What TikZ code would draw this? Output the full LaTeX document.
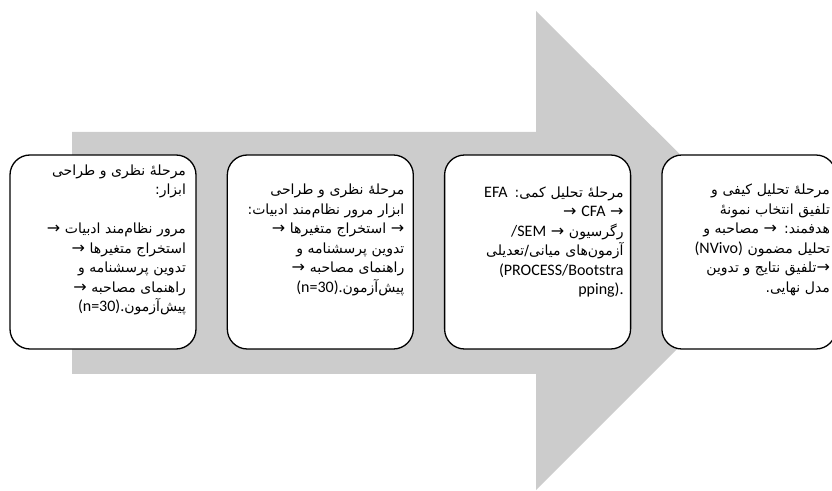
\documentclass[tikz,border=0pt]{standalone}
\usepackage{fontspec}
\setmainfont{Carlito}
\newfontfamily\arfont[Script=Arabic]{DejaVu Sans}
\newfontfamily\latfont{Carlito}
\TeXXeTstate=1
\usetikzlibrary{positioning}
\definecolor{arrowgray}{RGB}{204,204,204}
% right-to-left line and a left-to-right piece inside it
\newcommand{\rl}[1]{\beginR #1\endR}
\newcommand{\lat}[1]{\beginL{\latfont\fontsize{16pt}{19.5pt}\selectfont #1}\endL}
\newcommand{\hmz}{ه^^^^0654}
\newcommand{\nxt}{{\arfont\fontsize{16pt}{19.5pt}\selectfont →}}

\tikzset{
  stage/.style={draw, line width=1.3pt, rounded corners=20pt, fill=white,
    minimum width=186pt, minimum height=194pt, inner sep=0pt},
  stagetext/.style={inner sep=0pt, align=right,
    font=\arfont\fontsize{14pt}{19.5pt}\selectfont}
}

\begin{document}
\begin{tikzpicture}[x=1pt, y=1pt]
  \useasboundingbox (0,0) rectangle (832,490);

  % big process arrow
  \fill[arrowgray] (72,116) -- (536,116) -- (536,0) -- (776,240)
    -- (536,479) -- (536,358) -- (72,358) -- cycle;

  % stages
  \node[stage] (s1) at (103,238) {};
  \node[stage, right=30pt of s1] (s2) {};
  \node[stage, right=30pt of s2] (s3) {};
  \node[stage, right=30pt of s3, minimum width=174pt] (s4) {};

  \node[stagetext, text width=172pt] (t1) at ([xshift=-3pt, yshift=12pt]s1.center) {%
    \rl{مرحل\hmz{} نظری و طراحی}\\
    \rl{ابزار:}\\
    \mbox{}\\
    \rl{مرور نظام^^^^200cمند ادبیات \nxt}\hspace*{\fill}\\
    \rl{استخراج متغیرها \nxt}\hspace*{\fill}\\
    \rl{تدوین پرسشنامه و}\hspace*{\fill}\\
    \rl{راهنمای مصاحبه \nxt}\hspace*{\fill}\\
    \rl{پیش^^^^200cآزمون\lat{(n=30).}}\hspace*{\fill}};

  \node[stagetext, text width=168pt] (t2) at ([yshift=12pt]s2.center) {%
    \rl{مرحل\hmz{} نظری و طراحی}\\
    \rl{ابزار مرور نظام^^^^200cمند ادبیات:}\\
    \rl{\nxt{} استخراج متغیرها \nxt}\\
    \rl{تدوین پرسشنامه و}\\
    \rl{راهنمای مصاحبه \nxt}\\
    \rl{پیش^^^^200cآزمون\lat{(n=30).}}};

  \node[stagetext, text width=172pt] (t3) at ([yshift=10pt]s3.center) {%
    \rl{مرحل\hmz{} تحلیل کمی: \lat{EFA}}\\
    \beginL\nxt{} \lat{CFA} \nxt\endL\\
    \rl{رگرسیون \nxt{} \lat{SEM}\lat{/}}\\
    \rl{آزمون^^^^200cهای میانی/تعدیلی}\\
    \lat{(PROCESS/Bootstra}\\
    \lat{pping).}};

  \node[stagetext, text width=162pt] (t4) at ([yshift=12pt]s4.center) {%
    \rl{مرحل\hmz{} تحلیل کیفی و}\\
    \rl{تلفیق انتخاب نمون\hmz}\\
    \rl{هدفمند: \nxt{} مصاحبه و}\\
    \rl{تحلیل مضمون \lat{(NVivo)}}\\
    \rl{\nxt تلفیق نتایج و تدوین}\\
    \rl{مدل نهایی.}};
\end{tikzpicture}
\end{document}
